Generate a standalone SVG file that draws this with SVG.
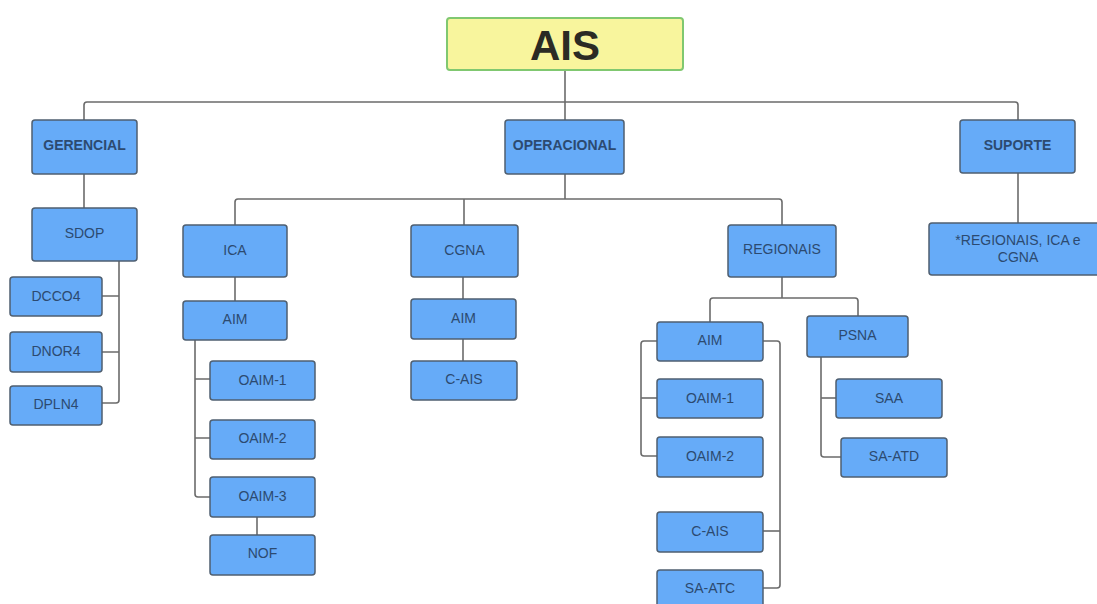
<svg xmlns="http://www.w3.org/2000/svg" width="1097" height="604" viewBox="0 0 1097 604">
<style>
.n{fill:#66abf8;stroke:#4f5f70;stroke-width:1.5}
.t{font-family:"Liberation Sans",Arial,sans-serif;font-size:14px;fill:#2c4a70;text-anchor:middle;dominant-baseline:central}
.b{font-weight:bold}
.c{fill:none;stroke:#6b6b6b;stroke-width:1.6;stroke-linejoin:round}
</style>
<rect width="1097" height="604" fill="#ffffff"/>
<g id="connectors">
<path class="c" d="M565 70V120"/>
<path class="c" d="M84 120V105Q84 102 87 102H1015Q1018 102 1018 105V120"/>
<path class="c" d="M1018 173V223"/>
<path class="c" d="M84 174V208"/>
<path class="c" d="M565 174V199"/>
<path class="c" d="M235 225V202Q235 199 238 199H779Q782 199 782 202V225"/>
<path class="c" d="M464 199V225"/>
<path class="c" d="M119 261V400Q119 403 116 403H102"/>
<path class="c" d="M102 296H119M102 352H119"/>
<path class="c" d="M235 277V301"/>
<path class="c" d="M195 340V494Q195 497 198 497H210"/>
<path class="c" d="M195 379H210M195 438H210"/>
<path class="c" d="M257 517V535"/>
<path class="c" d="M463 277V299"/>
<path class="c" d="M463 339V361"/>
<path class="c" d="M782 277V298"/>
<path class="c" d="M710 322V301Q710 298 713 298H855Q858 298 858 301V316"/>
<path class="c" d="M657 341H644Q641 341 641 344V453Q641 456 644 456H657"/>
<path class="c" d="M641 398H657"/>
<path class="c" d="M763 341H777Q780 341 780 344V585Q780 588 777 588H763"/>
<path class="c" d="M763 531H780"/>
<path class="c" d="M821 357V454Q821 457 824 457H841"/>
<path class="c" d="M821 398H836"/>
</g>
<g id="ais"><rect x="447" y="18" width="236" height="52" rx="3" fill="#f8f59d" stroke="#80c870" stroke-width="2"/><text x="565" y="45" font-family="Liberation Sans,Arial,sans-serif" font-size="42" font-weight="bold" fill="#2b2b24" text-anchor="middle" dominant-baseline="central">AIS</text></g>
<g id="gerencial"><rect class="n" x="32" y="120" width="105" height="54" rx="3"/><text class="t b" x="84.5" y="145">GERENCIAL</text></g>
<g id="operacional"><rect class="n" x="505" y="120" width="119" height="54" rx="3"/><text class="t b" x="564.5" y="145">OPERACIONAL</text></g>
<g id="suporte"><rect class="n" x="960" y="120" width="115" height="53" rx="3"/><text class="t b" x="1017.5" y="145">SUPORTE</text></g>
<g id="suporte-sub"><rect class="n" x="929" y="223" width="172" height="52" rx="3"/><text class="t" x="1018" y="240">*REGIONAIS, ICA e</text><text class="t" x="1018" y="257">CGNA</text></g>
<g id="sdop"><rect class="n" x="32" y="208" width="105" height="53" rx="3"/><text class="t" x="84.5" y="233">SDOP</text></g>
<g id="dcco4"><rect class="n" x="10" y="277" width="92" height="39" rx="3"/><text class="t" x="56" y="296">DCCO4</text></g>
<g id="dnor4"><rect class="n" x="10" y="332" width="92" height="40" rx="3"/><text class="t" x="56" y="351">DNOR4</text></g>
<g id="dpln4"><rect class="n" x="10" y="386" width="92" height="39" rx="3"/><text class="t" x="56" y="404">DPLN4</text></g>
<g id="ica"><rect class="n" x="183" y="225" width="104" height="52" rx="3"/><text class="t" x="235" y="250">ICA</text></g>
<g id="ica-aim"><rect class="n" x="183" y="301" width="104" height="39" rx="3"/><text class="t" x="235" y="319">AIM</text></g>
<g id="ica-oaim1"><rect class="n" x="210" y="361" width="105" height="39" rx="3"/><text class="t" x="262.5" y="380">OAIM-1</text></g>
<g id="ica-oaim2"><rect class="n" x="210" y="420" width="105" height="39" rx="3"/><text class="t" x="262.5" y="438">OAIM-2</text></g>
<g id="ica-oaim3"><rect class="n" x="210" y="477" width="105" height="40" rx="3"/><text class="t" x="262.5" y="496">OAIM-3</text></g>
<g id="nof"><rect class="n" x="210" y="535" width="105" height="40" rx="3"/><text class="t" x="262.5" y="553">NOF</text></g>
<g id="cgna"><rect class="n" x="411" y="225" width="107" height="52" rx="3"/><text class="t" x="464.5" y="250">CGNA</text></g>
<g id="cgna-aim"><rect class="n" x="411" y="299" width="105" height="40" rx="3"/><text class="t" x="463.5" y="318">AIM</text></g>
<g id="cgna-cais"><rect class="n" x="411" y="361" width="106" height="39" rx="3"/><text class="t" x="464" y="379">C-AIS</text></g>
<g id="regionais"><rect class="n" x="728" y="225" width="108" height="52" rx="3"/><text class="t" x="782" y="249">REGIONAIS</text></g>
<g id="reg-aim"><rect class="n" x="657" y="322" width="106" height="39" rx="3"/><text class="t" x="710" y="340">AIM</text></g>
<g id="reg-oaim1"><rect class="n" x="657" y="379" width="106" height="39" rx="3"/><text class="t" x="710" y="398">OAIM-1</text></g>
<g id="reg-oaim2"><rect class="n" x="657" y="437" width="106" height="40" rx="3"/><text class="t" x="710" y="456">OAIM-2</text></g>
<g id="reg-cais"><rect class="n" x="657" y="512" width="106" height="40" rx="3"/><text class="t" x="710" y="531">C-AIS</text></g>
<g id="reg-saatc"><rect class="n" x="657" y="570" width="106" height="40" rx="3"/><text class="t" x="710" y="588">SA-ATC</text></g>
<g id="psna"><rect class="n" x="807" y="316" width="101" height="41" rx="3"/><text class="t" x="857.5" y="335">PSNA</text></g>
<g id="saa"><rect class="n" x="836" y="379" width="106" height="39" rx="3"/><text class="t" x="889" y="398">SAA</text></g>
<g id="saatd"><rect class="n" x="841" y="438" width="106" height="39" rx="3"/><text class="t" x="894" y="456">SA-ATD</text></g>
</svg>
